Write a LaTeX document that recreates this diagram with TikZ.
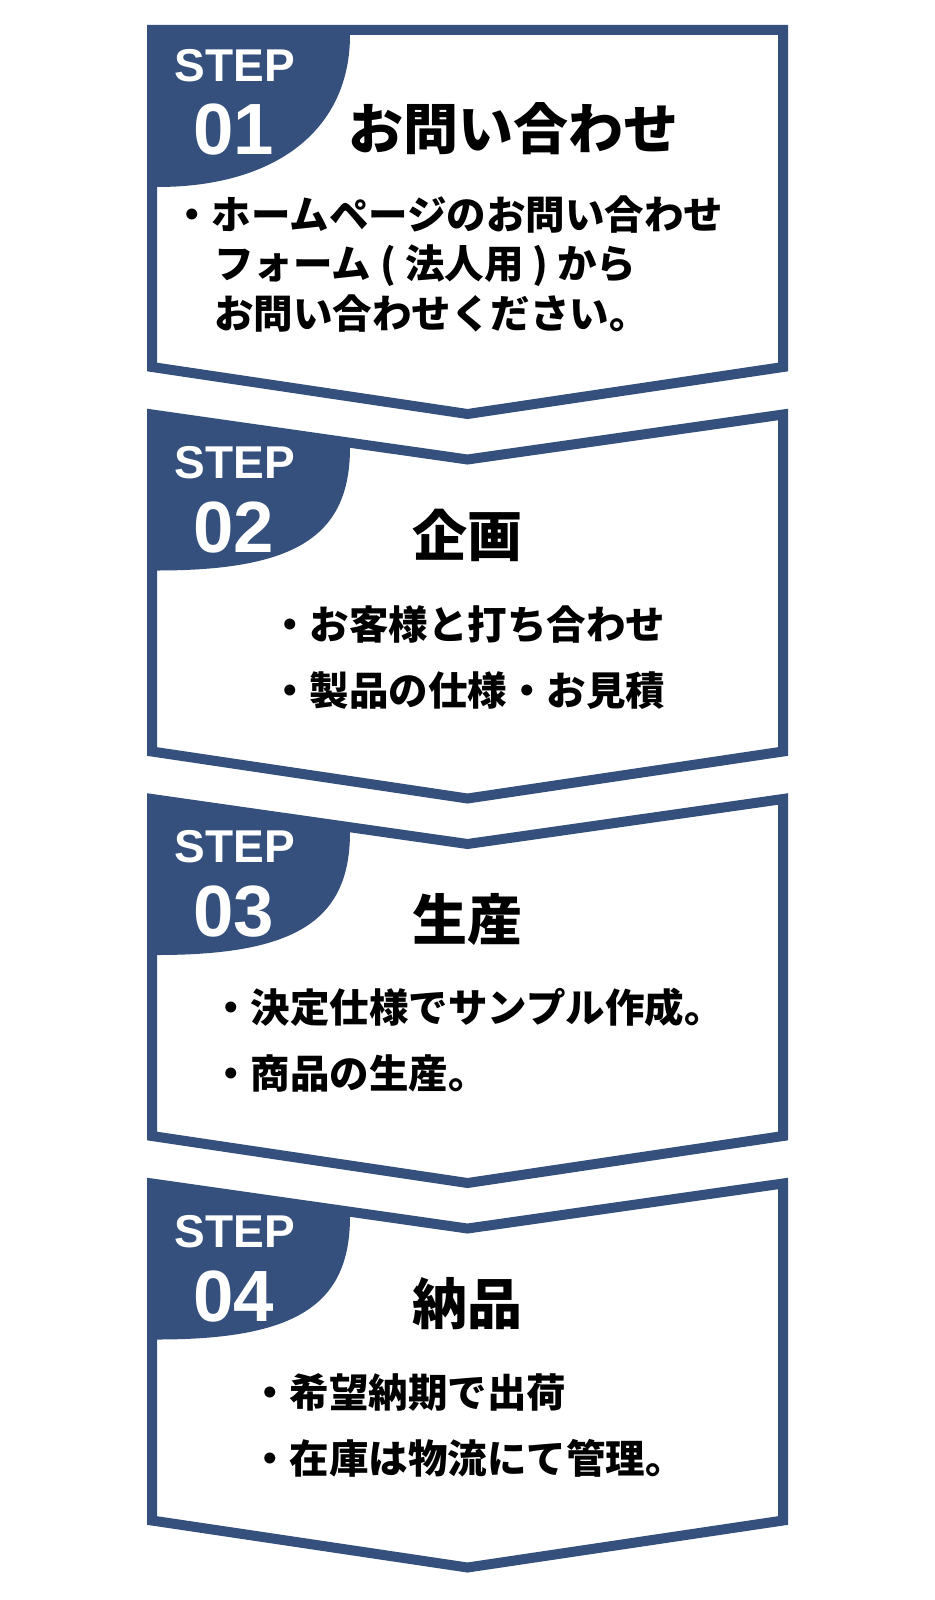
\documentclass[tikz,border=0pt]{standalone}
\usepackage{fontspec}
\newfontfamily\stepfont{Liberation Sans}
\newfontfamily\jpfont{Noto Sans CJK JP}
\definecolor{stepblue}{RGB}{53,80,125}
\tikzset{stepframe/.style={draw=stepblue,line width=5pt},
         steptab/.style={fill=stepblue},
         steplabel/.style={text=white,inner sep=0pt,anchor=base,
         font=\stepfont\bfseries\fontsize{23}{23}\selectfont},
         stepnum/.style={steplabel,font=\stepfont\bfseries\fontsize{36.3}{36.3}\selectfont},
         steptitle/.style={inner sep=0pt,font=\jpfont\bfseries\fontsize{27.5}{27.5}\selectfont},
         stepbody/.style={inner sep=0pt,align=left,
         font=\jpfont\bfseries\fontsize{19.75}{#1}\selectfont},
         stepbody/.default=33}

\begin{document}
\begin{tikzpicture}[x=0.5pt,y=-0.5pt]
    \fill[white] (0,0) rectangle (934,1600);
    \useasboundingbox (0,0) rectangle (934,1600);
    % frames with the blue corner tab
    \foreach \k/\notch/\ts/\tb/\kk in {0/0/5/157/0.62,1/45/33/156/0.72,2/45/33/156/0.72,3/45/33/156/0.72}{
        \pgfmathsetmacro\top{30+384.5*\k}
        \pgfmathsetmacro\ya{\top+\ts}
        \pgfmathsetmacro\yb{\top+\tb}
        \pgfmathsetmacro\yc{\ya+\kk*(\tb-\ts)}
        \pgfmathsetmacro\xc{157+\kk*193}
        \fill[steptab] (152,\top) -- (350,\top+\notch*198/315.5) -- (350,\ya)
            .. controls (350,\yc) and (\xc,\yb) .. (157,\yb) -- (152,\yb) -- cycle;
        \draw[stepframe] (152,\top) -- (467.5,\top+\notch) -- (783,\top) -- (783,\top+337)
            -- (467.5,\top+384) -- (152,\top+337) -- cycle;
    }
    % step 01
    \node[steplabel] (lab1) at (235,82) {STEP};
    \node[stepnum] (num1) at (233.5,155) {01};
    \node[steptitle] (title1) at (513.5,128.5) {お問い合わせ};
    \node[stepbody=24.75,anchor=west] (body1) at (172,264)
        {・ホームページのお問い合わせ\\\hspace*{21pt}フォーム ( 法人用 ) から\\\hspace*{21pt}お問い合わせください。};
    % step 02
    \node[steplabel] (lab2) at (235,478) {STEP};
    \node[stepnum] (num2) at (234,552) {02};
    \node[steptitle] (title2) at (467.5,535) {企画};
    \node[stepbody] (body2) at (467.5,658) {・お客様と打ち合わせ\\・製品の仕様・お見積};
    % step 03
    \node[steplabel] (lab3) at (235,862.5) {STEP};
    \node[stepnum] (num3) at (234,936.5) {03};
    \node[steptitle] (title3) at (467.5,919.5) {生産};
    \node[stepbody] (body3) at (467.5,1040) {・決定仕様でサンプル作成。\\・商品の生産。};
    % step 04
    \node[steplabel] (lab4) at (235,1247) {STEP};
    \node[stepnum] (num4) at (234,1321) {04};
    \node[steptitle] (title4) at (467.5,1304) {納品};
    \node[stepbody] (body4) at (467.5,1425) {・希望納期で出荷\\・在庫は物流にて管理。};
\end{tikzpicture}
\end{document}
